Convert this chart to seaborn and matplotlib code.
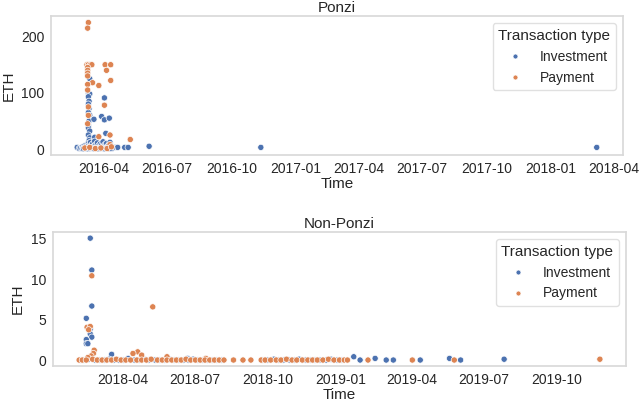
import matplotlib
matplotlib.use("Agg")
import matplotlib.pyplot as plt
import matplotlib.dates as mdates
import pandas as pd
import seaborn as sns

# ---------------- Ponzi data ----------------
ponzi_inv_dates = [
    "2016-02-23", "2016-04-14", "2016-04-17", "2016-04-21", "2016-05-01", "2016-05-06",
    "2016-06-05", "2016-11-12", "2018-03-08",
    "2016-03-12", "2016-03-10", "2016-03-12", "2016-03-10", "2016-03-11", "2016-03-10",
    "2016-03-11", "2016-03-10", "2016-03-12", "2016-03-11", "2016-03-10", "2016-03-10",
    "2016-03-12", "2016-03-10", "2016-03-12", "2016-03-11",
    "2016-03-18", "2016-04-02", "2016-03-29", "2016-04-02", "2016-04-09", "2016-04-04",
    "2016-03-19",
    "2016-02-26", "2016-02-28", "2016-03-01", "2016-03-02", "2016-03-03", "2016-03-04",
    "2016-03-05", "2016-03-06", "2016-03-07", "2016-03-08", "2016-03-09", "2016-03-10",
    "2016-03-11", "2016-03-12", "2016-03-13", "2016-03-14", "2016-03-15", "2016-03-16",
    "2016-03-17", "2016-03-18", "2016-03-19", "2016-03-20", "2016-03-21", "2016-03-22",
    "2016-03-23", "2016-03-24", "2016-03-25", "2016-03-26", "2016-03-27", "2016-03-28",
    "2016-03-29", "2016-03-30", "2016-03-31", "2016-04-01", "2016-04-02", "2016-04-03",
    "2016-04-04", "2016-04-05", "2016-04-06", "2016-04-07", "2016-04-08", "2016-04-09",
    "2016-04-10", "2016-04-11", "2016-04-12", "2016-04-13",
    "2016-03-03", "2016-03-06", "2016-03-09", "2016-03-12", "2016-03-15", "2016-03-18",
    "2016-03-21", "2016-03-24", "2016-03-27", "2016-03-30", "2016-04-02", "2016-04-05",
    "2016-04-08", "2016-04-11",
]
ponzi_inv_eth = [
    3, 3, 3, 3, 3, 3,
    5, 3, 3,
    125, 100, 98, 93, 85, 80,
    72, 65, 60, 50, 42, 38,
    32, 25, 20, 15,
    53, 91, 58, 52, 55, 28,
    21,
    1, 2, 1, 4, 2, 1,
    6, 3, 2, 8, 5, 10,
    7, 4, 12, 6, 3, 9,
    2, 5, 14, 4, 8, 2,
    11, 3, 6, 1, 9, 4,
    7, 2, 13, 5, 3, 8,
    2, 10, 4, 1, 6, 3,
    12, 2, 5, 1,
    0.5, 1, 0.5, 1, 2, 0.5,
    1, 0.5, 1, 2, 0.5, 1,
    0.5, 1,
]

ponzi_pay_dates = [
    "2016-03-10", "2016-03-09",
    "2016-03-08", "2016-03-10", "2016-03-13", "2016-03-15", "2016-04-03", "2016-04-11",
    "2016-03-09", "2016-03-09", "2016-04-05", "2016-03-09", "2016-03-09", "2016-04-11",
    "2016-03-16", "2016-03-09", "2016-03-25", "2016-03-09", "2016-04-02", "2016-03-10",
    "2016-03-10", "2016-03-09", "2016-04-10", "2016-03-25", "2016-05-09", "2016-04-10",
    "2016-03-05", "2016-03-12", "2016-03-20", "2016-03-28", "2016-04-06", "2016-04-12",
]
ponzi_pay_eth = [
    225, 215,
    150, 150, 150, 150, 150, 150,
    145, 140, 140, 135, 130, 122,
    118, 115, 113, 105, 78, 75,
    60, 45, 25, 22, 17, 8,
    2, 3, 1, 2, 1, 4,
]

# ---------------- Non-Ponzi data ----------------
nonponzi_inv_dates = [
    "2018-02-19", "2018-02-21", "2018-02-21", "2018-02-14", "2018-02-19", "2018-02-19",
    "2018-02-21", "2018-02-14", "2018-02-14", "2018-02-16", "2018-03-18", "2018-06-22",
    "2018-02-07", "2018-02-11", "2018-02-17", "2018-02-25", "2018-03-03", "2018-03-09",
    "2018-03-15", "2018-03-21", "2018-03-27", "2018-04-02", "2018-04-08", "2018-04-16",
    "2018-04-22", "2018-04-28", "2018-05-04", "2018-05-12", "2018-05-18", "2018-05-24",
    "2018-05-30", "2018-06-05", "2018-06-11", "2018-06-17", "2018-06-23", "2018-06-29",
    "2018-07-05", "2018-07-11", "2018-07-17", "2018-07-23", "2018-07-29", "2018-08-04",
    "2018-09-25", "2018-10-01", "2018-10-09", "2018-10-15", "2018-10-21", "2018-10-29",
    "2018-11-04", "2018-11-10", "2018-11-18", "2018-11-24", "2018-11-30", "2018-12-06",
    "2018-12-14", "2018-12-20", "2018-12-28", "2019-01-03",
    "2019-01-18", "2019-01-26", "2019-02-14", "2019-02-28", "2019-03-09", "2019-04-12",
    "2019-05-19", "2019-06-02", "2019-07-27",
]
nonponzi_inv_eth = [
    15.0, 11.1, 6.7, 5.2, 3.9, 3.3,
    2.9, 2.6, 2.1, 2.1, 0.8, 0.3,
    0.1, 0.1, 0.2, 0.1, 0.1, 0.1,
    0.2, 0.1, 0.1, 0.1, 0.3, 0.1,
    0.1, 0.2, 0.1, 0.1, 0.1, 0.1,
    0.2, 0.1, 0.1, 0.1, 0.1, 0.2,
    0.1, 0.1, 0.1, 0.1, 0.1, 0.1,
    0.1, 0.1, 0.2, 0.1, 0.1, 0.1,
    0.1, 0.2, 0.1, 0.1, 0.1, 0.1,
    0.1, 0.2, 0.1, 0.1,
    0.5, 0.1, 0.3, 0.1, 0.1, 0.1,
    0.3, 0.1, 0.2,
]

nonponzi_pay_dates = [
    "2018-02-21", "2018-05-09", "2018-02-15", "2018-02-19", "2018-02-17", "2018-02-24",
    "2018-02-23", "2018-02-20", "2018-04-20", "2018-04-14", "2018-04-25", "2018-05-27",
    "2018-07-15", "2018-02-16",
    "2018-02-05", "2018-02-09", "2018-02-14", "2018-02-22", "2018-02-28", "2018-03-06",
    "2018-03-12", "2018-03-18", "2018-03-24", "2018-03-30", "2018-04-05", "2018-04-11",
    "2018-04-19", "2018-04-25", "2018-05-01", "2018-05-07", "2018-05-15", "2018-05-21",
    "2018-05-27", "2018-06-02", "2018-06-08", "2018-06-14", "2018-06-20", "2018-06-26",
    "2018-07-02", "2018-07-08", "2018-07-14", "2018-07-20", "2018-07-26", "2018-08-01",
    "2018-08-07", "2018-08-19", "2018-08-31", "2018-09-10", "2018-09-23", "2018-09-28",
    "2018-10-05", "2018-10-12", "2018-10-18", "2018-10-25", "2018-11-01", "2018-11-07",
    "2018-11-14", "2018-11-21", "2018-11-27", "2018-12-03", "2018-12-10", "2018-12-17",
    "2018-12-24", "2018-12-31", "2019-01-06", "2019-01-10", "2019-02-05", "2019-04-02",
    "2019-05-25", "2019-11-25",
]
nonponzi_pay_eth = [
    10.4, 6.6, 4.1, 4.2, 3.8, 1.3,
    0.9, 0.6, 1.1, 0.9, 0.7, 0.5,
    0.3, 0.4,
    0.1, 0.1, 0.1, 0.2, 0.1, 0.1,
    0.1, 0.1, 0.2, 0.1, 0.1, 0.1,
    0.1, 0.1, 0.1, 0.2, 0.1, 0.1,
    0.1, 0.1, 0.1, 0.1, 0.2, 0.1,
    0.1, 0.1, 0.1, 0.1, 0.1, 0.1,
    0.1, 0.1, 0.1, 0.1, 0.1, 0.1,
    0.1, 0.1, 0.1, 0.2, 0.1, 0.1,
    0.1, 0.1, 0.1, 0.1, 0.1, 0.2,
    0.1, 0.1, 0.1, 0.1, 0.1, 0.1,
    0.1, 0.2,
]

type_labels = ["Investment", "Payment"]
panel_titles = ["Ponzi", "Non-Ponzi"]


def make_df(inv_d, inv_v, pay_d, pay_v):
    return pd.DataFrame({
        "Time": pd.to_datetime(inv_d + pay_d),
        "ETH": inv_v + pay_v,
        "Transaction type": [type_labels[0]] * len(inv_d) + [type_labels[1]] * len(pay_d),
    })


df_ponzi = make_df(ponzi_inv_dates, ponzi_inv_eth, ponzi_pay_dates, ponzi_pay_eth)
df_non = make_df(nonponzi_inv_dates, nonponzi_inv_eth, nonponzi_pay_dates, nonponzi_pay_eth)

sns.set_theme(style="white")
plt.rcParams["font.family"] = ["Liberation Sans", "DejaVu Sans"]
plt.rcParams["text.color"] = ".15"
plt.rcParams["axes.labelcolor"] = ".15"

palette = {type_labels[0]: "#4C72B0", type_labels[1]: "#DD8452"}

fig = plt.figure(figsize=(6.4, 4.05), dpi=100)
ax1 = fig.add_axes([0.080, 0.617, 0.893, 0.343])
ax2 = fig.add_axes([0.083, 0.096, 0.895, 0.331])

for ax, df, title in [(ax1, df_ponzi, panel_titles[0]), (ax2, df_non, panel_titles[1])]:
    sns.scatterplot(data=df, x="Time", y="ETH", hue="Transaction type",
                    hue_order=type_labels, palette=palette, s=20,
                    edgecolor="white", linewidth=0.5, ax=ax)
    ax.set_title(title, fontsize=11, pad=3)
    ax.set_xlabel("Time", fontsize=11, labelpad=1)
    ax.set_ylabel("ETH", fontsize=11)
    ax.xaxis.set_major_locator(mdates.MonthLocator(bymonth=[1, 4, 7, 10]))
    ax.xaxis.set_major_formatter(mdates.DateFormatter("%Y-%m"))
    ax.tick_params(axis="both", labelsize=10, length=0, pad=5)
    for sp in ax.spines.values():
        sp.set_color(".85")
    leg = ax.legend(title="Transaction type", loc="upper right", fontsize=10,
                    title_fontsize=11, markerscale=0.8, frameon=True)
    leg.get_frame().set_edgecolor(".85")

ax1.set_yticks([0, 100, 200])
ax2.set_yticks([0, 5, 10, 15])

fig.savefig("out.png", dpi=100)
